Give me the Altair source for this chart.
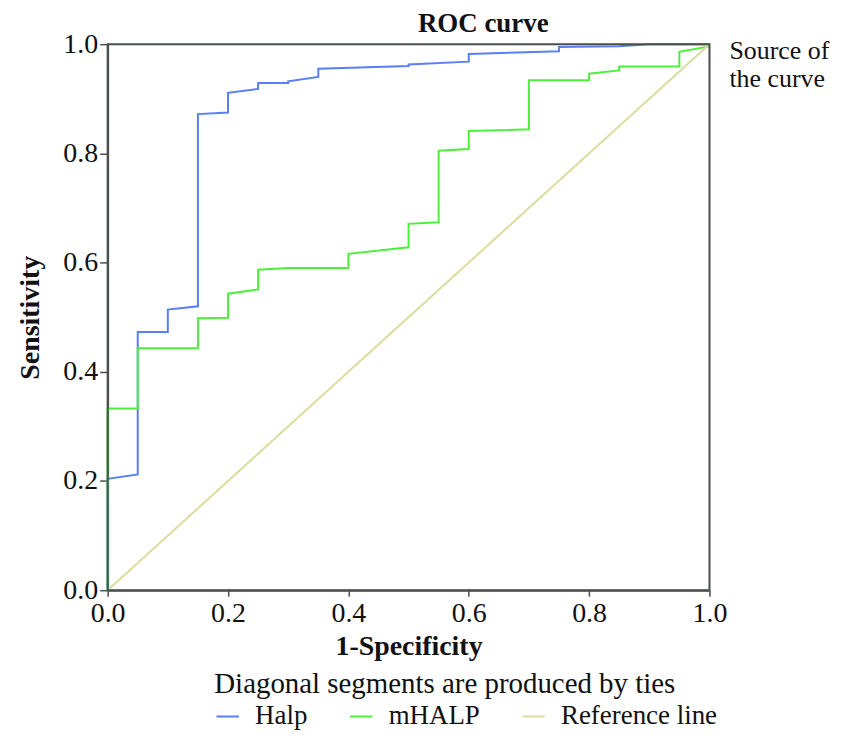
import altair as alt
import pandas as pd

# Data
halp_x = [0, 0, 0.05, 0.05, 0.10, 0.10, 0.15, 0.15, 0.20, 0.20, 0.25, 0.25, 0.30, 0.30,
          0.35, 0.35, 0.50, 0.50, 0.60, 0.60, 0.75, 0.75, 0.85, 0.90, 1.0]
halp_y = [0, 0.204, 0.212, 0.473, 0.473, 0.514, 0.520, 0.872, 0.875, 0.911, 0.918, 0.929,
          0.929, 0.932, 0.940, 0.955, 0.960, 0.963, 0.968, 0.982, 0.987, 0.995, 0.996, 1.0, 1.0]

mhalp_x = [0, 0, 0.05, 0.05, 0.15, 0.15, 0.20, 0.20, 0.25, 0.25, 0.30, 0.40, 0.40, 0.50,
           0.50, 0.55, 0.55, 0.60, 0.60, 0.70, 0.70, 0.80, 0.80, 0.85, 0.85, 0.95, 0.95, 1.0]
mhalp_y = [0, 0.333, 0.333, 0.443, 0.443, 0.498, 0.499, 0.543, 0.551, 0.587, 0.590, 0.590,
           0.616, 0.628, 0.671, 0.674, 0.805, 0.808, 0.841, 0.844, 0.934, 0.934, 0.946, 0.952,
           0.959, 0.959, 0.986, 0.996]

ref_x = [0, 1]
ref_y = [0, 1]

series_names = ["Halp", "mHALP", "Reference line"]
series_colors = ["#5a7ef5", "#4cf03a", "#dadd9e"]
tick_values = [0.0, 0.2, 0.4, 0.6, 0.8, 1.0]

rows = []
for name, xs, ys in zip(series_names, [halp_x, mhalp_x, ref_x], [halp_y, mhalp_y, ref_y]):
    for i, (x, y) in enumerate(zip(xs, ys)):
        rows.append({"series": name, "idx": i, "fpr": x, "tpr": y})
df = pd.DataFrame(rows)

FONT = "Liberation Serif"
AX = "#4a4f4f"

lines = alt.Chart(df).mark_line(strokeWidth=2, clip=False).encode(
    x=alt.X("fpr:Q", scale=alt.Scale(domain=[0, 1], nice=False),
            axis=alt.Axis(title="1-Specificity", values=tick_values, format=".1f",
                          grid=False, domainColor=AX, tickColor=AX, labelFlush=False,
                          domainWidth=2, tickWidth=1.5, tickSize=6, labelPadding=3,
                          labelFont=FONT, labelFontSize=28, labelColor="#111",
                          titleFont=FONT, titleFontSize=28, titleFontWeight="bold",
                          titleColor="#111", titlePadding=6)),
    y=alt.Y("tpr:Q", scale=alt.Scale(domain=[0, 1], nice=False),
            axis=alt.Axis(title="Sensitivity", values=tick_values, format=".1f",
                          grid=False, domainColor=AX, tickColor=AX, labelFlush=False,
                          domainWidth=2, tickWidth=1.5, tickSize=8, labelPadding=2,
                          labelFont=FONT, labelFontSize=28, labelColor="#111",
                          titleFont=FONT, titleFontSize=28, titleFontWeight="bold",
                          titleColor="#111", titlePadding=18)),
    color=alt.Color("series:N",
                    scale=alt.Scale(domain=series_names, range=series_colors),
                    legend=alt.Legend(title="Diagonal segments are produced by ties",
                                      orient="none", legendX=107, legendY=628,
                                      direction="horizontal", titleOrient="top",
                                      titleFont=FONT, titleFontSize=29,
                                      titleFontWeight="normal", titleColor="#111",
                                      titlePadding=4, titleLimit=800,
                                      labelFont=FONT, labelFontSize=27, labelColor="#111",
                                      labelLimit=300,
                                      symbolType="stroke", symbolSize=500,
                                      symbolStrokeWidth=2, columnPadding=38,
                                      labelOffset=14)),
    order=alt.Order("idx:Q"),
)

border = alt.Chart(pd.DataFrame({"k": [0]})).mark_rect(
    filled=False, stroke=AX, strokeWidth=2
).encode(x=alt.value(0), x2=alt.value(604), y=alt.value(0), y2=alt.value(548))

note = alt.Chart(pd.DataFrame({"t": [["Source of", "the curve"]]})).mark_text(
    align="left", baseline="alphabetic", font=FONT, fontSize=26, lineHeight=28,
    color="#111"
).encode(x=alt.value(624), y=alt.value(15), text="t:N")

title = alt.Chart(pd.DataFrame({"t": ["ROC curve"]})).mark_text(
    align="center", baseline="alphabetic", font=FONT, fontSize=27, fontWeight="bold",
    color="#111"
).encode(x=alt.value(377), y=alt.value(-12), text="t:N")

chart = alt.layer(lines, border, note, title).properties(
    width=604, height=548,
    autosize=alt.AutoSizeParams(type="none"),
    padding={"left": 100, "top": 35, "right": 130, "bottom": 142},
).configure_view(
    fill="#f3f4f4", stroke=None
).configure(background="white")

chart.save("out.html", embed_options={"renderer": "svg", "actions": False})
